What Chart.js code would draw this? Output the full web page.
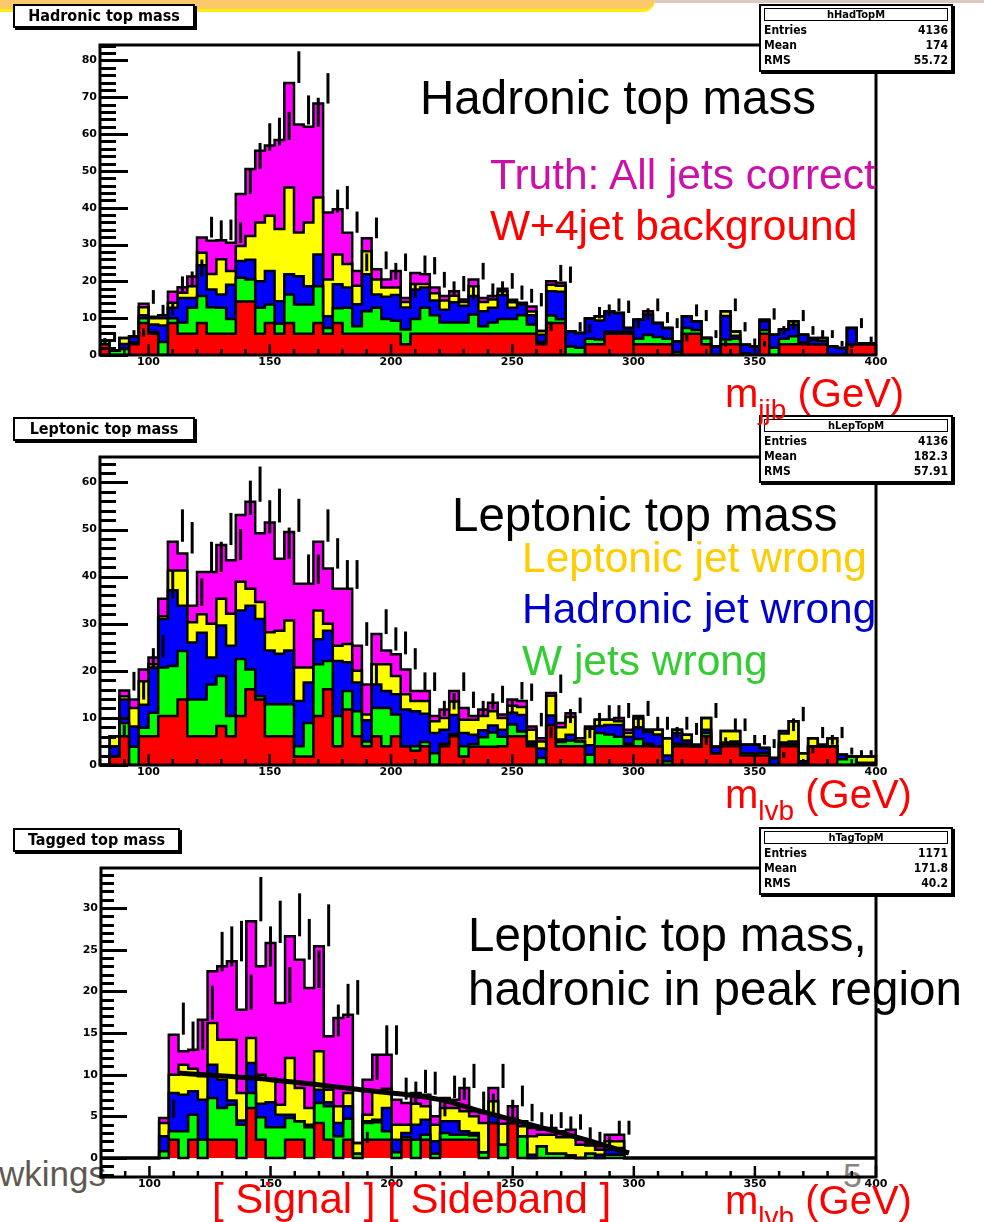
<!DOCTYPE html>
<html>
<head>
<meta charset="utf-8">
<script src="https://cdn.jsdelivr.net/npm/chart.js@4.4.1/dist/chart.umd.min.js"></script>
<style>
  body { margin: 0; width: 984px; height: 1222px; background: #fff; position: relative; overflow: hidden; font-family: "Liberation Sans", Arial, sans-serif; }
  canvas { position: absolute; }
  .txt { position: absolute; white-space: nowrap; line-height: 1; }
  .band { position: absolute; left: 0; top: 0; width: 655px; height: 9px; background: #fbc86c; border-bottom: 3px solid #ffee00; border-bottom-right-radius: 14px; }
  .band2 { position: absolute; left: 655px; top: 0; width: 329px; height: 3px; background: #dcc8bf; }
  .tbox { position: absolute; box-sizing: border-box; height: 24px; background: #fff; border: 2px solid #000; box-shadow: 2px 2px 0 #000;
          font: bold 16px "DejaVu Sans Condensed", sans-serif; line-height: 20px; text-align: center; filter: blur(0.3px); }
  .stats { position: absolute; left: 759px; width: 194px; height: 68px; box-sizing: border-box; border: 2px solid #000; box-shadow: 2px 2px 0 #000;
           background: #fff; padding: 2px 3px; font: bold 12px "DejaVu Sans Condensed", sans-serif; filter: blur(0.3px); }
  .sh { border: 1px solid #000; height: 11px; line-height: 11px; text-align: center; font-size: 11px; margin-bottom: 2px; }
  .sr { display: flex; justify-content: space-between; height: 15px; line-height: 15px; }
  sub { font-size: 28px; vertical-align: baseline; position: relative; top: 12px; }
</style>
</head>
<body>
<div class="band"></div><div class="band2"></div>
<div class="txt" style="left:-1px;top:1156px;font-size:35px;color:#5f5a50">wkings</div>
<div class="txt" style="left:843px;top:1158px;font-size:34px;color:#8a857c">5</div>
<div id="plots"></div>

<div class="tbox" style="left:13px;top:4px;width:182px">Hadronic top mass</div>
<div class="tbox" style="left:13px;top:417px;width:182px">Leptonic top mass</div>
<div class="tbox" style="left:13px;top:828px;width:167px">Tagged top mass</div>

<div class="stats" style="top:4px"><div class="sh">hHadTopM</div>
  <div class="sr"><span>Entries</span><span>4136</span></div>
  <div class="sr"><span>Mean</span><span>174</span></div>
  <div class="sr"><span>RMS</span><span>55.72</span></div></div>
<div class="stats" style="top:415px"><div class="sh">hLepTopM</div>
  <div class="sr"><span>Entries</span><span>4136</span></div>
  <div class="sr"><span>Mean</span><span>182.3</span></div>
  <div class="sr"><span>RMS</span><span>57.91</span></div></div>
<div class="stats" style="top:827px"><div class="sh">hTagTopM</div>
  <div class="sr"><span>Entries</span><span>1171</span></div>
  <div class="sr"><span>Mean</span><span>171.8</span></div>
  <div class="sr"><span>RMS</span><span>40.2</span></div></div>

<div class="txt" style="left:420px;top:74px;font-size:47.5px;color:#000">Hadronic top mass</div>
<div class="txt" style="left:490px;top:154px;font-size:42.5px;color:#cc10a8">Truth: All jets correct</div>
<div class="txt" style="left:490px;top:205px;font-size:42.5px;color:#ff0000">W+4jet background</div>
<div class="txt" style="left:725px;top:373px;font-size:40px;color:#ff0000">m<sub>jjb</sub> (GeV)</div>

<div class="txt" style="left:452px;top:491px;font-size:47.5px;color:#000">Leptonic top mass</div>
<div class="txt" style="left:522px;top:537px;font-size:42.5px;color:#ffcc00">Leptonic jet wrong</div>
<div class="txt" style="left:522px;top:588px;font-size:42.5px;color:#0000cc">Hadronic jet wrong</div>
<div class="txt" style="left:522px;top:640px;font-size:42.5px;color:#33cc33">W jets wrong</div>
<div class="txt" style="left:725px;top:774px;font-size:40px;color:#ff0000">m<sub>lvb</sub> (GeV)</div>

<div class="txt" style="left:468px;top:911px;font-size:47.5px;color:#000">Leptonic top mass,</div>
<div class="txt" style="left:468px;top:965px;font-size:47.5px;color:#000">hadronic in peak region</div>
<div class="txt" style="left:212px;top:1178px;font-size:42px;color:#ff0000">[ Signal ] [ Sideband ]</div>
<div class="txt" style="left:725px;top:1180px;font-size:40px;color:#ff0000">m<sub>lvb</sub> (GeV)</div>

<script>
// binning shared by all three plots (GeV)
const xMin = 80, xMax = 400, binWidth = 4;
const xTicks = [100, 150, 200, 250, 300, 350, 400];
const layerColors = ['#ff0000', '#00ff00', '#0000ff', '#ffff00', '#ff00ff'];

// hadronic top mass, bins from 80 GeV
const hadStart = 80;
const hadRed = [2.9,2.9,0,0,2.9,8.7,5.8,0,8.7,5.8,
  5.8,8.7,5.8,5.8,5.8,14.5,14.5,5.8,8.7,5.8,
  8.7,5.8,5.8,8.7,5.8,8.7,5.8,5.8,5.8,5.8,
  5.8,5.8,2.9,5.8,5.8,5.8,5.8,5.8,5.8,5.8,
  5.8,5.8,5.8,5.8,5.8,5.8,2.9,8.7,8.7,0,
  0,2.9,2.9,5.8,5.8,5.8,2.9,2.9,2.9,2.9,
  0,5.8,5.8,2.9,0,2.9,2.9,0,0,5.8,
  0,2.9,2.9,2.9,2.9,2.9,0,0,2.9,2.9];
const hadGreen = [0,1,1.2,1.6,0.5,1.3,0.5,3.5,1.3,3,
  7,7.3,7.2,7,4,6.5,6,7,5,2.7,
  7.7,7.9,7.9,10,1.5,4,7,2,6.1,7,
  4,3.5,4,4,7,5,3,3,3,5.2,
  2,3,4,4,5,2.5,0.6,2,1,2.3,
  2,1.5,1.3,0.5,0.5,0.5,1.5,2.5,2,1.5,
  0.8,1.5,1,1.7,0,1.3,1.5,0.5,0,1,
  2,1.5,2.2,0.5,0,0,0,0,0,0];
const hadBlue = [0,0,0,1.4,1.6,0.8,2,4.5,2.8,6.7,
  2.7,8.4,4.8,3.6,9.3,4.5,5.4,7.2,9.1,6.1,
  5.5,7.7,5,8.6,3.2,6.5,5.5,6,10,3.6,
  6,7,6,8,5.5,4,3.5,5.5,4.6,5,
  4.1,4,6.5,3,3,2.5,2,6.6,7.5,4.1,
  4,5.5,5.2,5.6,5.1,1,5.2,5.5,3.8,2.9,
  2.9,3.2,2.4,0,2.3,6.4,0.8,2.3,2.3,2.4,
  3.5,2.5,3.1,2.1,1.2,1,2.3,1.9,4.4,0.3];
const hadYellow = [0,0,0,1.6,0,2.2,1.7,2,1.4,1.4,
  3.2,3.4,4.2,9.6,3.7,4.1,6.4,16,15,19.6,
  23.6,11.9,17.3,15.5,10,8.1,6.4,5,6.3,4.1,
  2.5,2,1.5,1.5,1,2,2.5,1.8,1,2.7,
  2.5,2.3,1,1.5,0,1,1,1.8,1.6,0,
  0,0,1.1,0,0,0,0,0,0,0,
  0,0,0,0,0,1.3,1.2,0,0,0.4,
  0,0,1,0,0.5,0.7,0,0,0,0];
const hadMagenta = [0,0,0,0,0,0.9,0.4,0.8,3,1.5,
  2.6,4.1,9,5.2,7.7,14.1,18.2,19.5,19.1,24.2,
  28.4,29.3,26,25.5,18.2,12.3,8.5,4,3.5,2.8,
  2.2,4.5,1.1,3,2.6,1.5,1.2,1.2,0.7,1.8,
  1.1,0.9,0.7,0.7,0.4,1.4,0,0.9,0.8,0,
  0,0,0,0,0,0,0,1,0,0,
  0,0,0,0,0,0,0,0,0,0,
  0,0,0,0,0,0,0,0,0,0];
const hadYTicks = [0, 10, 20, 30, 40, 50, 60, 70, 80];

// leptonic top mass, bins from 80 GeV
const lepStart = 80;
const lepRed = [0,0,1.8,6.1,0,6.1,6.1,10.4,10.4,13.9,
  6.1,6.1,6.1,8.3,6.1,10.4,16.1,13.9,6.1,6.1,
  6.1,1.8,1.8,10.4,16.1,4,11.8,6.1,4,6.1,
  4,6.1,4,3,4,0,4,6.1,1.8,3.9,
  3.9,3.9,4,6.1,6.1,4,0,8.5,4,4,
  4,0,4,4,4,4,4,4,4,0,
  4,4,4,6.1,2.5,4,4,2,2,2,
  0,4,4,0,4,4,4,0,0,0];
const lepGreen = [0,0,0,2.8,3.9,1.8,5,10.3,10.6,10.3,
  7.8,7.8,11,10.6,4.3,12.1,4.2,0.7,6.8,6.8,
  6.8,2.2,7.1,11,6,6.4,3.9,5.3,1,6,
  8.1,4.6,0,1,0.9,2.5,0.5,0.5,2.2,0.5,
  2,3,2,2.5,1,0.5,1.5,0,0.9,1.2,
  1,2.2,2.8,2.5,2,0.5,1.5,0.5,0,0.8,
  0.5,0.5,0,0.7,0,0.5,0.5,0.5,0.5,0.6,
  0,0.5,0.5,0,0,0,0,1.2,1.8,0];
const lepBlue = [0,0,2.2,5,4.3,4.9,9.6,10.3,16.1,9.6,
  12.1,14.2,5.7,10.7,14.9,10.3,13.5,16.4,11.4,10.7,
  11.4,9.6,8.6,5.3,6.4,11.7,6.1,6.1,4.5,5,
  3.6,4.3,7.8,7.4,6,4.3,3,4,2.8,2,
  1.5,1.5,1.5,2.5,3.5,0.5,2,2,0.5,1.2,
  0,2,1.5,2,2.5,1.5,2.5,2.5,2.5,1.2,
  2.3,0.7,0,0.7,1.4,0.3,0.5,1.8,1.8,1,
  1.5,0.3,0.5,0.8,0,0,0,1,0,0.5];
const lepYellow = [0,0,2.1,0.7,3.9,5,0.7,0.6,4.2,7.5,
  4.3,3.9,7.2,5.7,6.8,6.1,3.6,3.6,3.9,4.9,
  6.4,7.1,3.2,6.1,1.5,3.2,3.9,2.5,1.2,4.3,
  5.7,3.9,3.2,2.2,2.7,2.5,2.5,2.9,2.8,3.2,
  3,3,2.5,1.5,1.7,2.5,1.5,4.2,2.6,3.8,
  0.7,3.5,1.3,1.1,0.8,0.8,1.9,0.5,1,3.7,
  0.7,1.2,0.3,2.5,0,2.4,2.2,0,0,0,
  0,1.9,4.3,1.7,1.7,0.3,1.7,0,0,1.3];
const lepMagenta = [0,0,0,1.2,1.8,2.5,1.4,3.7,6.1,3.6,
  3.5,9,11,11.4,11.4,14.2,18.5,14.6,23.3,15.3,
  18.8,17.8,17.8,14.6,11.7,12.1,11.7,5.3,6.4,6.4,
  2.9,4.6,5.3,2.1,2.1,1.1,1.8,2.2,2.5,0.8,
  1.4,1.8,0.7,1.3,1.3,0.7,0.7,0.6,0.9,0.8,
  0,0.5,0,0,0.7,0.7,0.5,0,0,0,
  0,0,0,0,0,0,0,0,0,0,
  0,0.5,0,0,0,0,0,0,0,0];
const lepYTicks = [0, 10, 20, 30, 40, 50, 60];

// tagged sample, bins from 108 GeV
const tagStart = 108;
const tagRed = [0,2.2,0,2.2,0,2.2,2.2,2.2,0,6,
  2.2,0,0,2.2,2.2,0,4.2,2.2,0,2.2,
  0,2.2,2.2,2.2,0,2.2,0,2.2,0,2.2,
  2.2,2.2,2.2,0,4.2,0,4.2,0,0,0,
  0,0,0,0,0,0,0,0];
const tagGreen = [0.8,1,3.2,3,2.2,5,3.8,4.2,4,1.8,
  2.7,3.7,3.7,2.6,2.2,3.7,2.4,4,2.6,2.5,
  0.5,2,2.1,1,0.7,0.3,2.2,0.6,0.5,0.8,
  0.6,0.6,0.5,0.7,0,1.6,0,2.6,0,1.4,
  0.5,0.5,0.3,0,0.5,0,0.4,0.4];
const tagBlue = [1.8,4.6,4.4,2.8,4.8,4,3.4,0.5,0.5,3.6,
  1.6,3,1.5,0.4,0,0.3,1.6,0.5,1.6,1.5,
  0,0.2,0.3,2.8,1.5,0.5,1.8,1.8,1.5,1.4,
  1.6,0.4,0.3,0,1,0,0,0,0.4,0,
  0,0,0,0,0,0.4,0.6,0.8];
const tagYellow = [1.6,2.2,3.6,2.7,2.8,5,4.8,7.3,3.3,3,
  3.5,2.8,1.2,6.8,4,2,4.6,1.5,2,1.6,
  1.3,0.8,3.4,2.3,1.8,1,2.5,1.6,2,1.6,
  1.6,2.4,2,3.5,1.6,2.5,0.5,1.2,2.2,1.4,
  2.3,2,2.2,1.6,1,0.6,1,0.8];
const tagMagenta = [0.6,4.8,1.6,2.3,6.8,6.2,8.8,9.4,10,14,
  13,16.3,12.2,14.6,15.4,14.4,12.6,6.4,10.6,9.4,
  0,4.2,4.4,4.1,3,2.6,1.3,1.4,1,1.2,
  1,2.8,0.6,1.2,1.6,0.7,1.5,0.6,1,0.6,
  0.8,0.7,0.9,0.6,0.3,0.4,0.8,0.8];
const tagYTicks = [0, 5, 10, 15, 20, 25, 30];

// fitted background curve under the tagged sample
const fitMass = [112, 150, 187, 220, 237, 260, 280, 298];
const fitCount = [10.2, 9.4, 8.2, 7.0, 5.6, 3.8, 2.2, 0.6];


function histPoints(start, counts) {
  const pts = [];
  for (let e = xMin; e < xMax; e += binWidth) {
    const k = Math.round((e - start) / binWidth);
    pts.push({x: e, y: counts[k] ?? 0});
  }
  pts.push({x: xMax, y: pts[pts.length - 1].y});
  return pts;
}

const rootFrame = {
  id: 'rootFrame',
  afterDatasetsDraw(chart, args, opts) {
    const {ctx, chartArea: a} = chart;
    const xs = chart.scales.x, ys = chart.scales.y;
    ctx.save();
    ctx.strokeStyle = '#000';

    // upper error bars, sqrt of the stacked count
    ctx.lineWidth = 3;
    opts.totals.forEach((t, i) => {
      if (t <= 0) return;
      const px = xs.getPixelForValue(xMin + (i + 0.5) * binWidth);
      ctx.beginPath();
      ctx.moveTo(px, ys.getPixelForValue(t));
      ctx.lineTo(px, ys.getPixelForValue(t + Math.sqrt(t)));
      ctx.stroke();
    });

    // inward ticks, root style
    ctx.lineWidth = 3;
    const nMinor = Math.floor((ys.max - ys.min) / opts.yMinor) + 1;
    const firstMinor = Math.ceil(ys.min / opts.yMinor) * opts.yMinor;
    for (let n = 0; n < nMinor; n++) {
      const v = firstMinor + n * opts.yMinor;
      if (v > ys.max) break;
      const py = Math.round(ys.getPixelForValue(v)) + 0.5;
      const isMajor = Math.abs(v / opts.yMajor - Math.round(v / opts.yMajor)) < 1e-6;
      ctx.beginPath();
      ctx.moveTo(a.left, py);
      ctx.lineTo(a.left + (isMajor ? opts.majorLen : opts.minorLen), py);
      ctx.stroke();
    }
    ctx.lineWidth = 2.5;
    for (let v = xMin; v <= xMax; v += 10) {
      const px = xs.getPixelForValue(v);
      ctx.beginPath();
      ctx.moveTo(px, a.bottom);
      ctx.lineTo(px, a.bottom - (v % 50 === 0 ? 11 : 6));
      ctx.stroke();
    }

    ctx.lineWidth = 3;
    ctx.strokeRect(a.left, a.top, a.right - a.left, a.bottom - a.top);
    ctx.restore();
  }
};

function makePanel(id, frame, start, layers, yMin, yMax, yTicks, tickCfg, fit) {
  const canvas = document.createElement('canvas');
  canvas.id = id;
  canvas.width = frame.right - frame.left + 84;
  canvas.height = frame.bottom - frame.top + 35;
  canvas.style.left = (frame.left - 50) + 'px';
  canvas.style.top = (frame.top - 10) + 'px';
  document.getElementById('plots').appendChild(canvas);

  const datasets = layers.map((counts, i) => ({
    data: histPoints(start, counts),
    stepped: 'after',
    backgroundColor: layerColors[i],
    borderColor: '#000',
    borderWidth: 2.5,
    fill: i === 0 ? 'origin' : '-1',
    pointRadius: 0,
    tension: 0
  }));
  if (fit) {
    datasets.push({
      data: fit.x.map((m, i) => ({x: m, y: fit.y[i]})),
      stack: 'fit',
      borderColor: '#000',
      borderWidth: 5,
      fill: false,
      pointRadius: 0,
      cubicInterpolationMode: 'monotone',
      order: -1
    });
  }

  const nBins = (xMax - xMin) / binWidth;
  const totals = [];
  for (let b = 0; b < nBins; b++) {
    const k = b - (start - xMin) / binWidth;
    totals.push(layers.reduce((s, arr) => s + (arr[k] ?? 0), 0));
  }

  const tickFont = {family: 'DejaVu Sans', size: 11, weight: 'bold'};
  return new Chart(canvas.getContext('2d'), {
    type: 'line',
    data: {datasets: datasets},
    options: {
      responsive: false,
      animation: false,
      devicePixelRatio: 1,
      layout: {padding: {left: 20, top: 10, right: 34, bottom: 3}},
      plugins: {
        legend: {display: false},
        tooltip: {enabled: false},
        filler: {drawTime: 'beforeDatasetsDraw'},
        rootFrame: Object.assign({totals: totals}, tickCfg)
      },
      scales: {
        x: {
          type: 'linear', min: xMin, max: xMax,
          grid: {display: false, drawTicks: false},
          border: {display: false},
          afterBuildTicks: s => { s.ticks = xTicks.map(v => ({value: v})); },
          afterFit: s => { s.height = 22; },
          ticks: {padding: 1, color: '#000', font: tickFont, maxRotation: 0, autoSkip: false}
        },
        y: {
          type: 'linear', stacked: true, min: yMin, max: yMax,
          grid: {display: false, drawTicks: false},
          border: {display: false},
          afterBuildTicks: s => { s.ticks = yTicks.map(v => ({value: v})); },
          afterFit: s => { s.width = 30; },
          ticks: {padding: 3, color: '#000', font: tickFont, autoSkip: false}
        }
      }
    },
    plugins: [rootFrame]
  });
}

makePanel('had', {left: 100, top: 45, right: 876, bottom: 355}, hadStart,
  [hadRed, hadGreen, hadBlue, hadYellow, hadMagenta], 0, 84.2, hadYTicks,
  {yMajor: 10, yMinor: 2, majorLen: 28, minorLen: 16}, null);

makePanel('lep', {left: 100, top: 457, right: 876, bottom: 765}, lepStart,
  [lepRed, lepGreen, lepBlue, lepYellow, lepMagenta], 0, 65.4, lepYTicks,
  {yMajor: 10, yMinor: 2, majorLen: 28, minorLen: 16}, null);

makePanel('tag', {left: 101, top: 868, right: 876, bottom: 1177}, tagStart,
  [tagRed, tagGreen, tagBlue, tagYellow, tagMagenta], -2.28, 34.8, tagYTicks,
  {yMajor: 5, yMinor: 1, majorLen: 26, minorLen: 13}, {x: fitMass, y: fitCount});
</script>
</body>
</html>
